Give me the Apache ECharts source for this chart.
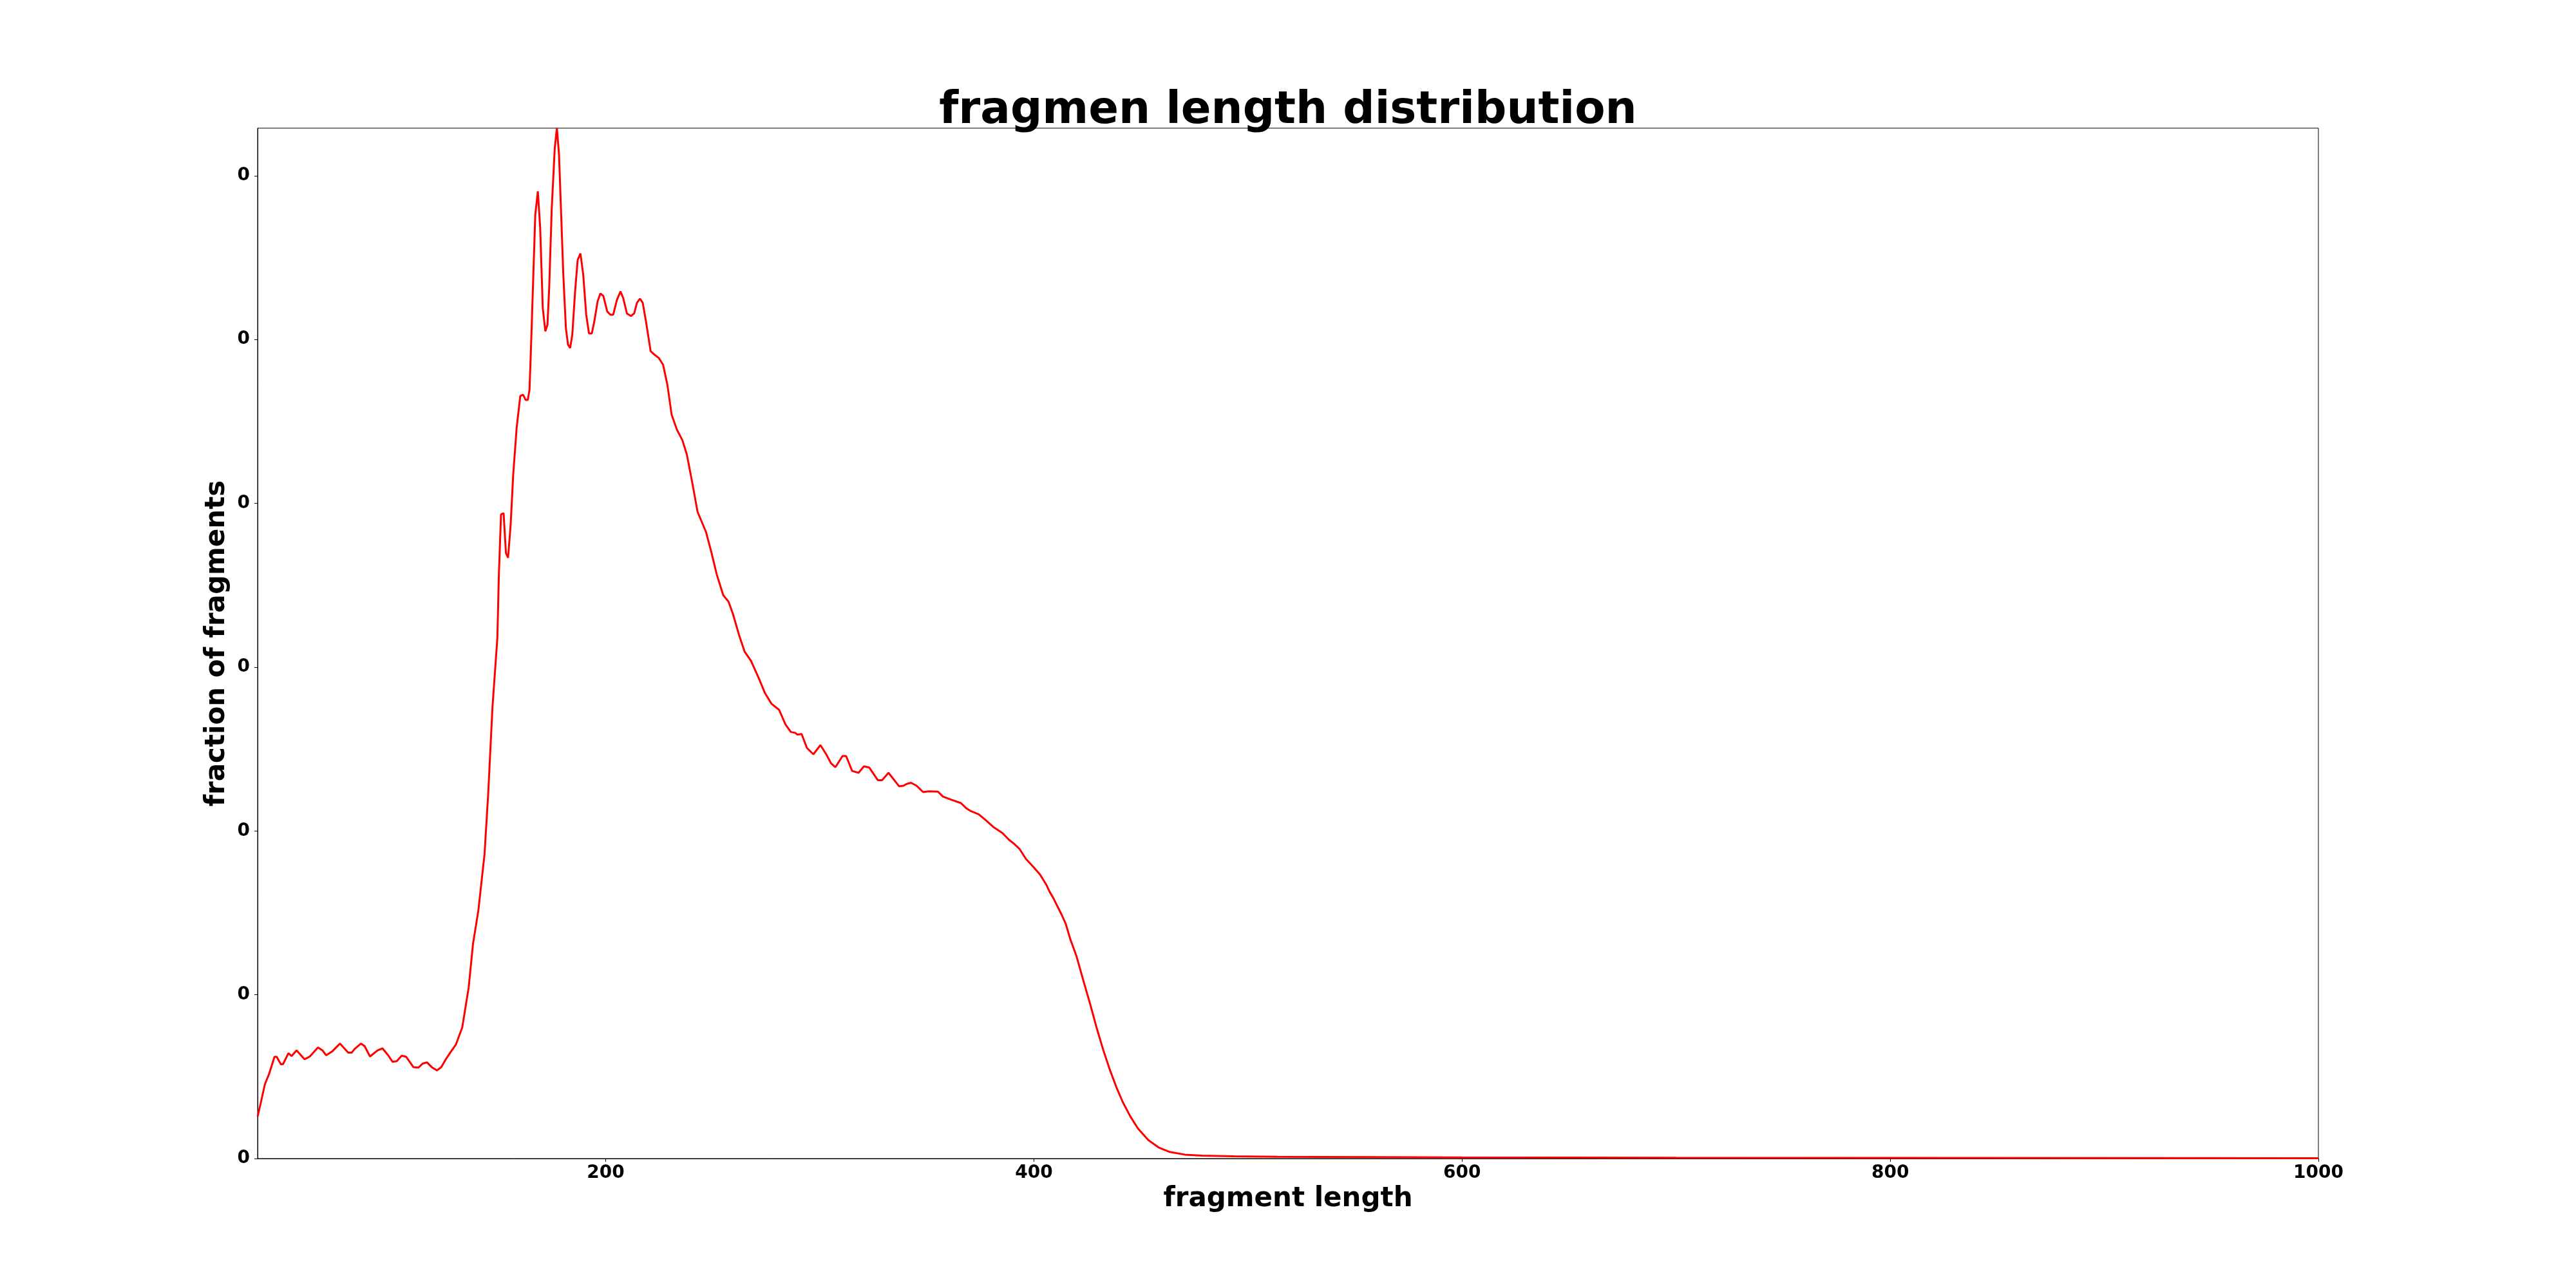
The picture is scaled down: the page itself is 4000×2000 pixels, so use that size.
<!DOCTYPE html>
<html>
<head>
<meta charset="utf-8">
<script src="https://cdn.jsdelivr.net/npm/echarts@6/dist/echarts.min.js"></script>
<style>
html,body{margin:0;padding:0;background:#fff;}
#chart{width:4000px;height:2000px;}
</style>
</head>
<body>
<div id="chart"></div>
<script>
const chartTitle = "fragmen length distribution";
const xAxisTitle = "fragment length";
const yAxisTitle = "fraction of fragments";
const xTickValues = [200, 400, 600, 800, 1000];
const yTickValues = [0, 0.001, 0.002, 0.003, 0.004, 0.005, 0.006];

const lengths = [
  37.4, 38.8, 40.8, 42.8, 45.3, 46.3, 48.3, 49.3, 51.8, 53.3, 55.6, 59.3, 61.8, 65.6, 67.8, 69.4,
  72.4, 75.9, 79.7, 81.4, 82.7, 85.7, 87.4, 89.9, 93.4, 95.7, 98.4, 100.4, 102.4, 104.7, 106.8,
  110.2, 112.5, 114.5, 116.5, 119.0, 121.2, 123.2, 125.5, 127.5, 130.0, 133.0, 136.0, 138.0,
  140.5, 143.4, 145.1, 147.1, 149.4, 150.1, 151.1, 152.3, 153.4, 154.4, 155.6, 156.8, 158.4,
  160.1, 161.4, 162.6, 163.6, 164.4, 165.1, 166.1, 167.1, 168.3, 169.4, 170.6, 171.8, 172.8,
  173.6, 174.8, 176.2, 177.2, 178.2, 179.2, 180.2, 181.4, 182.4, 183.4, 184.4, 185.7, 186.9,
  188.2, 189.5, 190.9, 192.2, 193.5, 194.7, 196.2, 197.5, 198.9, 200.7, 202.2, 203.5, 205.2,
  206.9, 208.2, 209.9, 211.8, 213.3, 214.6, 216.0, 217.3, 218.8, 221.0, 222.8, 224.8, 226.8,
  228.8, 230.8, 233.3, 235.8, 237.9, 240.4, 242.9, 246.9, 249.4, 251.9, 254.9, 257.4, 259.4,
  262.4, 264.9, 267.9, 271.9, 274.4, 277.4, 281.0, 284.0, 286.5, 288.5, 289.5, 291.5, 294.0,
  297.0, 300.3, 303.0, 305.3, 307.3, 310.6, 312.3, 315.1, 318.1, 320.6, 323.1, 327.1, 329.1,
  332.1, 337.1, 339.1, 340.6, 342.6, 345.2, 348.2, 351.2, 355.2, 357.5, 361.5, 365.9, 368.2,
  370.5, 374.2, 377.2, 381.0, 385.3, 388.3, 390.8, 393.3, 396.3, 399.8, 402.8, 405.8, 407.3,
  409.3, 412.9, 414.9, 417.0, 419.9, 423.5, 426.4, 429.4, 432.4, 435.4, 438.4, 441.4,
  445.1, 448.6, 453.5, 458.5, 463.5, 470.5, 478.6, 493.6, 513.6, 533.7, 560, 600, 650, 700,
  800, 900, 1000
];

const fractions = [
  0.000256, 0.000335, 0.000453, 0.000518, 0.000621, 0.000621, 0.000575, 0.000577, 0.000643,
  0.000626, 0.000660, 0.000606, 0.000623, 0.000678, 0.000659, 0.000630, 0.000656, 0.000702,
  0.000647, 0.000647, 0.000669, 0.000702, 0.000686, 0.000623, 0.000660, 0.000673, 0.000630,
  0.000591, 0.000595, 0.000628, 0.000621, 0.000558, 0.000555, 0.000580, 0.000587, 0.000555,
  0.000538, 0.000558, 0.000610, 0.000649, 0.000695, 0.000801, 0.001045, 0.001309, 0.001513,
  0.001858, 0.002224, 0.002753, 0.003180, 0.003566, 0.003932, 0.003940, 0.003696, 0.003667,
  0.003870, 0.004176, 0.004460, 0.004655, 0.004663, 0.004631, 0.004631, 0.004692, 0.004948,
  0.005355, 0.005761, 0.005904, 0.005680, 0.005192, 0.005050, 0.005090, 0.005314, 0.005802,
  0.006168, 0.006290, 0.006127, 0.005761, 0.005395, 0.005070, 0.004968, 0.004948, 0.005029,
  0.005293, 0.005485, 0.005525, 0.005395, 0.005151, 0.005037, 0.005037, 0.005111, 0.005232,
  0.005281, 0.005265, 0.005171, 0.005151, 0.005151, 0.005240, 0.005293, 0.005252, 0.005159,
  0.005143, 0.005159, 0.005224, 0.005249, 0.005224, 0.005111, 0.004928, 0.004907, 0.004887,
  0.004846, 0.004724, 0.004541, 0.004448, 0.004386, 0.004298, 0.004128, 0.003948, 0.003823,
  0.003699, 0.003564, 0.003439, 0.003399, 0.003326, 0.003191, 0.003094, 0.003037, 0.002920,
  0.002841, 0.002777, 0.002739, 0.002649, 0.002604, 0.002599, 0.002588, 0.002592, 0.002506,
  0.002468, 0.002524, 0.002468, 0.002412, 0.002389, 0.002457, 0.002457, 0.002366, 0.002355,
  0.002394, 0.002387, 0.002310, 0.002310, 0.002355, 0.002272, 0.002276, 0.002287, 0.002294,
  0.002276, 0.002238, 0.002242, 0.002240, 0.002210, 0.002190, 0.002170, 0.002141, 0.002121,
  0.002102, 0.002069, 0.002025, 0.001987, 0.001947, 0.001921, 0.001890, 0.001829, 0.001780,
  0.001735, 0.001672, 0.001630, 0.001585, 0.001490, 0.001432, 0.001340, 0.001235,
  0.001069, 0.000938, 0.000794, 0.000663, 0.000545, 0.000440, 0.000348, 0.000256, 0.000184,
  0.000112, 0.000066, 0.000040, 0.000024, 0.000018, 0.000014, 0.000011, 0.000010, 0.000009,
  0.000007, 0.000006, 0.000005, 0.000004, 0.000003, 0.000002
];

const seriesData = lengths.map((x, i) => [x, fractions[i]]);
const font = "'DejaVu Sans', sans-serif";

const chart = echarts.init(document.getElementById('chart'), null, {renderer: 'canvas'});
chart.setOption({
  animation: false,
  backgroundColor: '#ffffff',
  title: {
    text: chartTitle,
    left: 'center',
    top: 134,
    textStyle: {fontFamily: font, fontWeight: 'bold', fontSize: 69, color: '#000'}
  },
  grid: {
    left: 400, right: 400, top: 199, bottom: 201,
    show: true, borderColor: '#000', borderWidth: 1, containLabel: false
  },
  xAxis: {
    type: 'value',
    min: 37.4,
    max: 1000,
    name: xAxisTitle,
    nameLocation: 'middle',
    nameGap: 40,
    nameTextStyle: {fontFamily: font, fontWeight: 'bold', fontSize: 42, color: '#000'},
    axisLine: {show: true, lineStyle: {color: '#000', width: 1}},
    axisTick: {show: true, inside: false, length: 5, lineStyle: {color: '#000', width: 1}, customValues: xTickValues},
    axisLabel: {
      customValues: xTickValues,
      margin: 9,
      fontFamily: font, fontWeight: 'bold', fontSize: 28, color: '#000',
      formatter: v => String(Math.round(v))
    },
    splitLine: {show: false}
  },
  yAxis: {
    type: 'value',
    min: 0,
    max: 'dataMax',
    name: yAxisTitle,
    nameLocation: 'middle',
    nameGap: 38,
    nameTextStyle: {fontFamily: font, fontWeight: 'bold', fontSize: 42, color: '#000'},
    axisLine: {show: true, lineStyle: {color: '#000', width: 1}},
    axisTick: {show: true, inside: false, length: 5, lineStyle: {color: '#000', width: 1}, customValues: yTickValues},
    axisLabel: {
      customValues: yTickValues,
      margin: 12,
      fontFamily: font, fontWeight: 'bold', fontSize: 28, color: '#000',
      formatter: v => String(Math.trunc(v))
    },
    splitLine: {show: false}
  },
  series: [{
    type: 'line',
    data: seriesData,
    showSymbol: false,
    symbol: 'none',
    smooth: false,
    lineStyle: {color: '#ff0000', width: 3},
    clip: true
  }]
});
</script>
</body>
</html>
